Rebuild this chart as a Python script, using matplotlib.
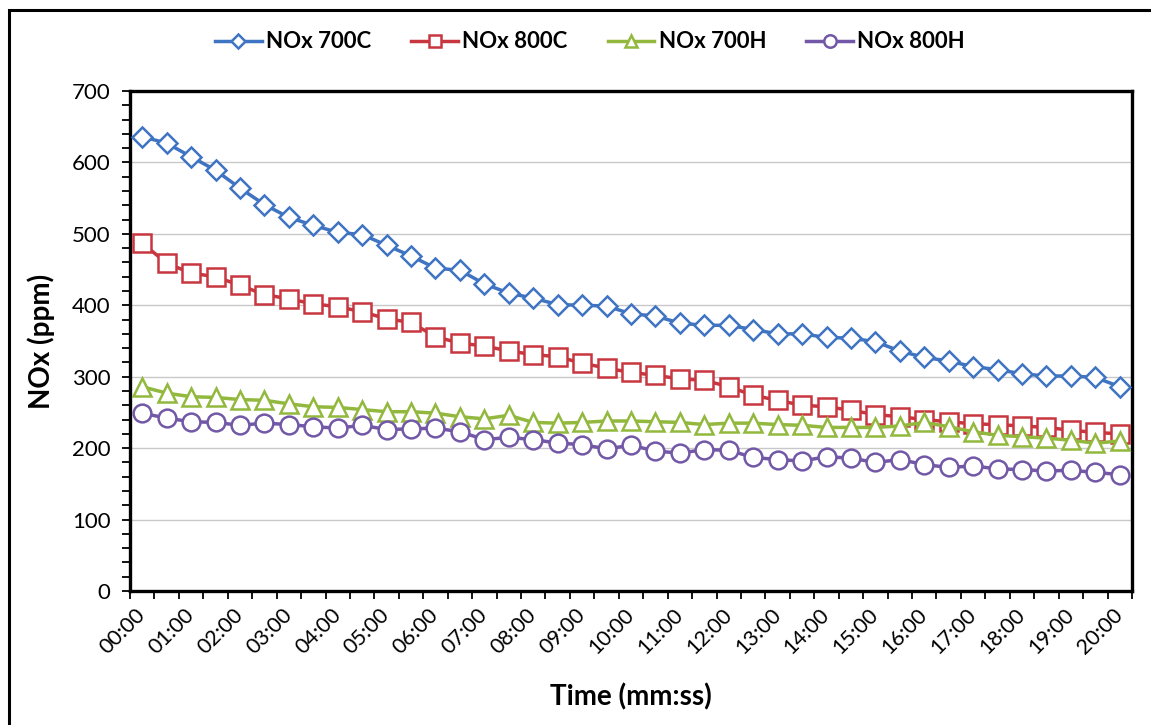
import matplotlib
matplotlib.use("Agg")
import matplotlib.pyplot as plt
from matplotlib.ticker import MultipleLocator, FixedLocator
from matplotlib.patches import Rectangle

plt.rcParams["font.family"] = ["Lato", "DejaVu Sans"]

# Sampling every 30 s from 00:00 to 20:00 (41 categories)
time_labels = [f"{(i * 30) // 60:02d}:{(i * 30) % 60:02d}" for i in range(41)]

nox_700c = [636, 627, 608, 589, 564, 541, 523, 512, 502, 499, 484, 469, 452, 449,
            430, 417, 410, 401, 400, 399, 388, 385, 375, 372, 372, 366, 360, 360,
            355, 354, 349, 336, 327, 322, 314, 310, 304, 301, 301, 299, 286]
nox_800c = [487, 459, 445, 440, 428, 415, 409, 402, 398, 391, 381, 376, 356, 347,
            343, 336, 331, 328, 319, 312, 306, 302, 297, 295, 286, 274, 267, 260,
            258, 253, 247, 244, 240, 237, 234, 233, 231, 229, 225, 222, 220]
nox_700h = [286, 277, 272, 271, 268, 267, 262, 258, 257, 254, 251, 251, 249, 244,
            241, 246, 236, 235, 236, 238, 238, 237, 236, 233, 235, 235, 233, 232,
            229, 229, 229, 231, 236, 230, 223, 218, 216, 214, 211, 207, 210]
nox_800h = [249, 242, 237, 236, 232, 235, 233, 230, 228, 232, 226, 227, 228, 223,
            212, 215, 212, 207, 205, 199, 204, 196, 193, 198, 197, 187, 184, 182,
            188, 186, 180, 184, 177, 173, 175, 171, 170, 168, 169, 166, 163]

series_names = ["NOx 700C", "NOx 800C", "NOx 700H", "NOx 800H"]
series_values = [nox_700c, nox_800c, nox_700h, nox_800h]
colors = ["#3F74C2", "#C8363F", "#92B83E", "#7258A6"]
markers = ["D", "s", "^", "o"]
marker_sizes = [9.8, 12.8, 13.2, 12.8]

W, H = 1151, 725
fig = plt.figure(figsize=(W / 100, H / 100), dpi=100)
fig.patch.set_facecolor("white")

# Chart-area border
fig.add_artist(Rectangle((9 / W, -0.2), 1.2, 1.2 - 9.5 / H,
                         transform=fig.transFigure, fill=False,
                         edgecolor="black", linewidth=2.2, clip_on=False))

ax = fig.add_axes([130 / W, 1 - 591 / H, (1132 - 130) / W, (591 - 91) / H])

x = list(range(len(time_labels)))
for name, vals, c, m, ms in zip(series_names, series_values, colors, markers, marker_sizes):
    ax.plot(x, vals, color=c, lw=2.5, marker=m, ms=ms, mfc="white", mec=c,
            mew=1.8, label=name, zorder=3)

ax.set_xlim(-0.5, len(time_labels) - 0.5)
ax.set_ylim(0, 700)

# Category axis: labels every minute, ticks on category boundaries
ax.xaxis.set_major_locator(FixedLocator(x[::2]))
ax.set_xticklabels(time_labels[::2])
ax.xaxis.set_minor_locator(FixedLocator([i - 0.5 for i in range(len(time_labels) + 1)]))
ax.tick_params(axis="x", which="major", length=0, pad=15, labelsize=15.5)
ax.tick_params(axis="x", which="minor", length=6, width=1.3, direction="out")
for lbl in ax.get_xticklabels():
    lbl.set_rotation(45)
    lbl.set_ha("right")
    lbl.set_va("center")
    lbl.set_rotation_mode("anchor")

ax.yaxis.set_major_locator(MultipleLocator(100))
ax.yaxis.set_minor_locator(MultipleLocator(20))
ax.tick_params(axis="y", which="both", length=6, width=1.3, direction="out",
               labelsize=16, pad=8)

ax.grid(axis="y", which="major", color="#C8C8C8", lw=1.0, zorder=0)
ax.set_axisbelow(True)

for sp in ax.spines.values():
    sp.set_linewidth(2.4)
    sp.set_color("black")

ax.set_xlabel("Time (mm:ss)", fontsize=20, fontweight="bold", labelpad=18)
ax.set_ylabel("NOx (ppm)", fontsize=20, fontweight="bold", labelpad=12)

fig.legend(loc="center", bbox_to_anchor=(590 / W, 1 - 42 / H), ncol=4,
           frameon=False, prop={"weight": "bold", "size": 16},
           handlelength=2.1, columnspacing=1.8, handletextpad=0.2, markerscale=0.7)

fig.savefig("out.png", dpi=100, facecolor="white")
